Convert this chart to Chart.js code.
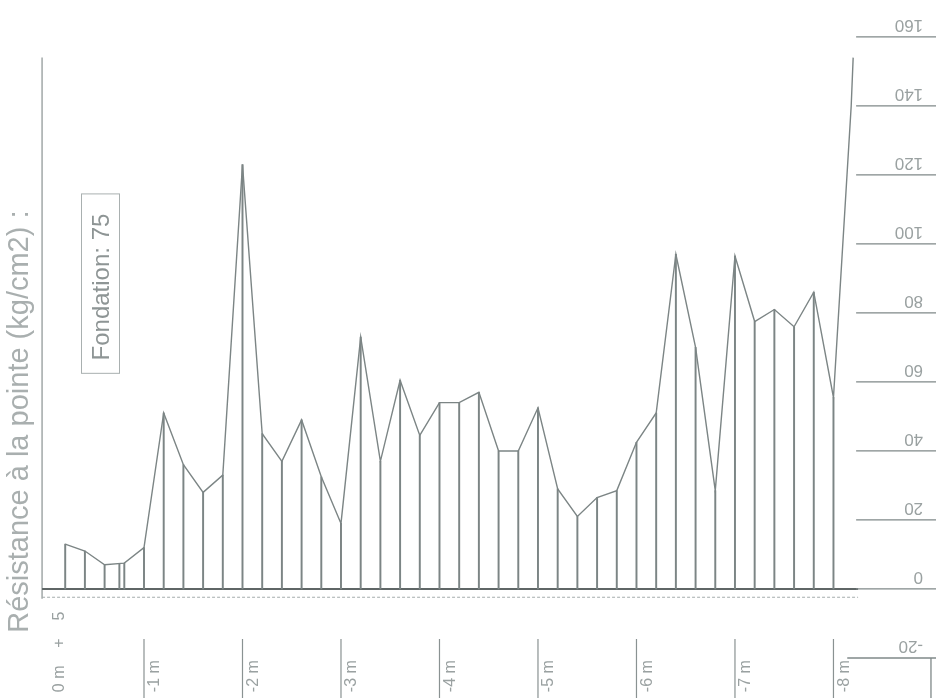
<!DOCTYPE html>
<html>
<head>
<meta charset="utf-8">
<script src="https://cdn.jsdelivr.net/npm/chart.js@4/dist/chart.umd.min.js"></script>
<style>
  html, body { margin: 0; padding: 0; background: #fff; }
  #wrap { width: 936px; height: 698px; }
</style>
</head>
<body>
<div id="wrap"><canvas id="c" width="936" height="698"></canvas></div>
<script>
// Penetrometer log: tip resistance (kg/cm2) against depth (m)
const depths = [0.2, 0.4, 0.6, 0.8, 1.0, 1.2, 1.4, 1.6, 1.8, 2.0,
                2.2, 2.4, 2.6, 2.8, 3.0, 3.2, 3.4, 3.6, 3.8, 4.0,
                4.2, 4.4, 4.6, 4.8, 5.0, 5.2, 5.4, 5.6, 5.8, 6.0,
                6.2, 6.4, 6.6, 6.8, 7.0, 7.2, 7.4, 7.6, 7.8, 8.0];
const resistance = [13, 11, 7, 7.5, 12, 51, 36, 28, 33, 123,
                    45, 37, 49, 32.5, 19, 73, 37, 60.5, 44.5, 54,
                    54, 57, 40, 40, 52.5, 29, 21, 26.5, 28.5, 42.5,
                    51, 97, 70, 28.5, 96.5, 77.5, 81, 76, 86, 55.5];
// refusal: the trace climbs past the last reading
const refusalDepths = [8.18, 8.2];
const refusalValues = [140, 154];

// foundation level
const foundationDepth = 0.75;
const foundationValue = 7.3;
const foundationLabel = 'Fondation: 75';

const depthTicks = [0, 1, 2, 3, 4, 5, 6, 7, 8];
const depthLabels = ['0 m    +    5', '-1 m', '-2 m', '-3 m', '-4 m', '-5 m', '-6 m', '-7 m', '-8 m'];
const resistanceTicks = [-20, 0, 20, 40, 60, 80, 100, 120, 140, 160];
const resistanceLabels = ['-20', '0', '20', '40', '60', '80', '100', '120', '140', '160'];
const axisTitle = 'Résistance à la pointe (kg/cm2) :';

const INK = '#7c8585';
const TEXT = '#9aa1a1';
const FONT = '"Liberation Sans", Arial, sans-serif';

const traceData = depths.map((d, i) => ({ x: d, y: resistance[i] }))
  .concat(refusalDepths.map((d, i) => ({ x: d, y: refusalValues[i] })));
const stemData = depths.map((d, i) => ({ x: d, y: resistance[i] }));

const decor = {
  id: 'decor',
  beforeDatasetsDraw(chart) {
    const { ctx } = chart;
    const xs = chart.scales.x, ys = chart.scales.y;
    const X = v => xs.getPixelForValue(v);
    const Y = v => ys.getPixelForValue(v);
    ctx.save();

    // left axis
    ctx.strokeStyle = '#8a9292';
    ctx.lineWidth = 1.2;
    ctx.beginPath();
    ctx.moveTo(X(-0.035), Y(154)); ctx.lineTo(X(-0.035), Y(-2.8));
    ctx.stroke();

    // zero baseline
    ctx.strokeStyle = '#5f6666';
    ctx.lineWidth = 2;
    ctx.beginPath();
    ctx.moveTo(X(-0.035), Y(0)); ctx.lineTo(X(8.25), Y(0));
    ctx.stroke();

    // dotted line under baseline
    ctx.strokeStyle = '#a5adad';
    ctx.lineWidth = 1.2;
    ctx.setLineDash([3, 2]);
    ctx.beginPath();
    ctx.moveTo(X(-0.035), Y(-2.4)); ctx.lineTo(X(8.25), Y(-2.4));
    ctx.stroke();
    ctx.setLineDash([]);

    // right-hand scale lines and upside-down labels
    ctx.strokeStyle = '#7f8888';
    ctx.lineWidth = 1.3;
    ctx.fillStyle = TEXT;
    ctx.font = '17px ' + FONT;
    resistanceTicks.forEach((t, i) => {
      const y = Y(t);
      ctx.beginPath();
      ctx.moveTo(X(t < 0 ? 8.14 : 8.23), y); ctx.lineTo(X(9.05), y);
      ctx.stroke();
      ctx.save();
      ctx.translate(X(8.91), y - 4);
      ctx.rotate(Math.PI);
      ctx.textAlign = 'left';
      ctx.textBaseline = 'top';
      ctx.fillText(resistanceLabels[i], 0, 0);
      ctx.restore();
    });
    // side of the lower box
    ctx.beginPath();
    ctx.moveTo(X(8.99), Y(-20)); ctx.lineTo(X(8.99), Y(-32));
    ctx.stroke();

    // depth ticks and labels
    ctx.strokeStyle = '#8a9292';
    ctx.lineWidth = 1.2;
    depthTicks.forEach((d, i) => {
      const x = X(d);
      if (d > 0) {
        ctx.beginPath();
        ctx.moveTo(x, Y(-14.5)); ctx.lineTo(x, Y(-32));
        ctx.stroke();
      }
      ctx.save();
      ctx.translate(x + (d > 0 ? 11 : 14), Y(-29.9));
      ctx.rotate(-Math.PI / 2);
      ctx.textAlign = 'left';
      ctx.textBaseline = 'middle';
      ctx.font = '16px ' + FONT;
      ctx.fillText(depthLabels[i], 0, 0);
      ctx.restore();
    });

    // axis title
    ctx.save();
    ctx.translate(20, Y(48.5));
    ctx.rotate(-Math.PI / 2);
    ctx.textAlign = 'center';
    ctx.textBaseline = 'middle';
    ctx.font = '29px ' + FONT;
    ctx.fillStyle = '#a9afaf';
    ctx.fillText(axisTitle, 0, 0);
    ctx.restore();

    // foundation note
    ctx.strokeStyle = '#a9b0b0';
    ctx.lineWidth = 1;
    ctx.strokeRect(81.5, Y(114.5), 38, Y(62.5) - Y(114.5));
    ctx.save();
    ctx.translate(102, Y(87.5));
    ctx.rotate(-Math.PI / 2);
    ctx.textAlign = 'center';
    ctx.textBaseline = 'middle';
    ctx.font = '24px ' + FONT;
    ctx.fillStyle = '#8e9595';
    ctx.fillText(foundationLabel, 0, 0);
    ctx.restore();

    ctx.restore();
  }
};

new Chart(document.getElementById('c'), {
  type: 'line',
  data: {
    datasets: [
      {
        type: 'line',
        data: traceData,
        borderColor: INK,
        borderWidth: 1.4,
        pointRadius: 0,
        tension: 0,
        fill: false
      },
      {
        type: 'bar',
        data: stemData,
        backgroundColor: INK,
        barThickness: 1.3,
        grouped: false
      },
      {
        type: 'bar',
        data: [{ x: foundationDepth, y: foundationValue }],
        backgroundColor: INK,
        barThickness: 1.3,
        grouped: false
      }
    ]
  },
  options: {
    responsive: false,
    animation: false,
    devicePixelRatio: 1,
    layout: { padding: 0 },
    plugins: { legend: { display: false }, tooltip: { enabled: false } },
    scales: {
      x: { type: 'linear', min: -0.462, max: 9.041, offset: false, display: false },
      y: { type: 'linear', min: -31.6, max: 170.7, display: false }
    }
  },
  plugins: [decor]
});
</script>
</body>
</html>
